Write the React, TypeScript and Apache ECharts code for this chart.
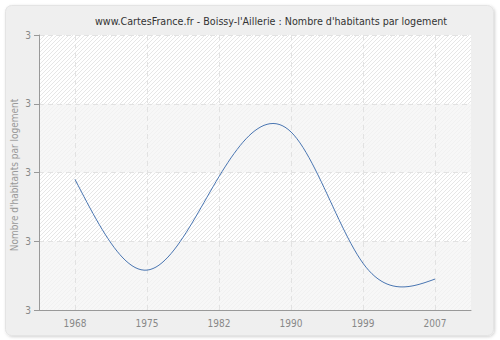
import React, { useEffect, useRef } from "react";
import * as echarts from "echarts";

const TITLE = "www.CartesFrance.fr - Boissy-l'Aillerie : Nombre d'habitants par logement";
const Y_NAME = "Nombre d'habitants par logement";
const years = ["1968", "1975", "1982", "1990", "1999", "2007"];
const values = [2.99, 2.858, 2.994, 3.059, 2.868, 2.845];
const yMin = 2.8;
const yMax = 3.2;
const yStep = 0.1;

function makeHatch() {
  const c = document.createElement("canvas");
  c.width = 4;
  c.height = 4;
  const ctx = c.getContext("2d");
  if (ctx) {
    ctx.fillStyle = "#ffffff";
    ctx.fillRect(0, 0, 4, 4);
    ctx.fillStyle = "#e6e6e6";
    for (let i = 0; i < 4; i++) ctx.fillRect(i, 3 - i, 1, 1);
  }
  return c;
}

// Natural cubic spline through pixel points
function naturalSpline(pts: number[][], steps: number): number[][] {
  const n = pts.length;
  if (n < 3) return pts;
  const xs = pts.map((p) => p[0]);
  const ys = pts.map((p) => p[1]);
  const h: number[] = [];
  for (let i = 0; i < n - 1; i++) h.push(xs[i + 1] - xs[i]);
  const a: number[] = new Array(n).fill(0);
  const b: number[] = new Array(n).fill(0);
  const c: number[] = new Array(n).fill(0);
  const d: number[] = new Array(n).fill(0);
  b[0] = 1;
  b[n - 1] = 1;
  for (let i = 1; i < n - 1; i++) {
    a[i] = h[i - 1];
    b[i] = 2 * (h[i - 1] + h[i]);
    c[i] = h[i];
    d[i] = 6 * ((ys[i + 1] - ys[i]) / h[i] - (ys[i] - ys[i - 1]) / h[i - 1]);
  }
  const cp: number[] = new Array(n).fill(0);
  const dp: number[] = new Array(n).fill(0);
  cp[0] = c[0] / b[0];
  dp[0] = d[0] / b[0];
  for (let i = 1; i < n; i++) {
    const m = b[i] - a[i] * cp[i - 1];
    cp[i] = c[i] / m;
    dp[i] = (d[i] - a[i] * dp[i - 1]) / m;
  }
  const M: number[] = new Array(n).fill(0);
  M[n - 1] = dp[n - 1];
  for (let i = n - 2; i >= 0; i--) M[i] = dp[i] - cp[i] * M[i + 1];
  const out: number[][] = [];
  for (let i = 0; i < n - 1; i++) {
    const hi = h[i];
    for (let s = 0; s < steps; s++) {
      const t = (s / steps) * hi;
      const A = (hi - t) / hi;
      const B = t / hi;
      const y =
        A * ys[i] +
        B * ys[i + 1] +
        ((A * A * A - A) * M[i] + (B * B * B - B) * M[i + 1]) * (hi * hi) / 6;
      out.push([xs[i] + t, y]);
    }
  }
  out.push([xs[n - 1], ys[n - 1]]);
  return out;
}

export default function App() {
  const ref = useRef<HTMLDivElement>(null);
  useEffect(() => {
    if (!ref.current) return;
    const chart = echarts.init(ref.current, null, { renderer: "svg" });
    const font = "DejaVu Sans Condensed";
    chart.setOption({
      animation: false,
      backgroundColor: "#ffffff",
      title: {
        text: TITLE,
        left: 90,
        top: 11,
        textStyle: { fontFamily: font, fontSize: 10.65, fontWeight: "normal", color: "#333333" },
      },
      graphic: {
        elements: [
          {
            type: "rect",
            z: -10,
            shape: { x: 5.5, y: 5.5, width: 488, height: 330, r: 6 },
            style: {
              fill: "#efefef",
              stroke: "#e4e4e4",
              lineWidth: 1,
              shadowBlur: 3,
              shadowOffsetX: 1,
              shadowOffsetY: 1,
              shadowColor: "rgba(0,0,0,0.18)",
            },
          },
          {
            type: "text",
            x: 14,
            y: 175,
            rotation: Math.PI / 2,
            style: {
              text: Y_NAME,
              fontFamily: font,
              fontSize: 10,
              fill: "#999999",
              align: "center",
              verticalAlign: "middle",
            },
          },
        ],
      },
      grid: {
        left: 39,
        right: 29,
        top: 35,
        bottom: 30,
        containLabel: false,
        outerBoundsMode: "none",
        show: true,
        borderWidth: 0,
        backgroundColor: { image: makeHatch(), repeat: "repeat" },
      },
      xAxis: {
        type: "category",
        data: years,
        boundaryGap: true,
        axisLine: { lineStyle: { color: "#999999", width: 1 } },
        axisTick: { alignWithLabel: true, length: 5, lineStyle: { color: "#999999" } },
        axisLabel: { fontFamily: font, fontSize: 10, color: "#888888", margin: 8 },
        splitLine: {
          show: true,
          alignWithLabel: true,
          lineStyle: { color: "#e2e2e2", type: [5, 4], width: 1 },
        },
      },
      yAxis: {
        type: "value",
        min: yMin,
        max: yMax,
        interval: yStep,
        axisLine: { show: true, lineStyle: { color: "#999999", width: 1 } },
        axisTick: { show: true, length: 5, lineStyle: { color: "#999999" } },
        axisLabel: {
          fontFamily: font,
          fontSize: 10,
          color: "#888888",
          margin: 8,
          formatter: (v: number) => String(Math.round(v)),
        },
        splitLine: { show: true, lineStyle: { color: "#e2e2e2", type: [5, 4], width: 1 } },
        splitArea: {
          show: true,
          areaStyle: { color: ["rgba(244,244,244,0.75)", "rgba(255,255,255,0)"] },
        },
      },
      series: [
        {
          type: "custom",
          data: values.map((v, i) => [i, v]),
          encode: { x: 0, y: 1 },
          renderItem: (params: any, api: any) => {
            if (params.dataIndex !== 0) return null;
            const pts = values.map((v, i) => api.coord([i, v]));
            const curve = naturalSpline(pts, 24);
            return {
              type: "polyline",
              shape: { points: curve },
              style: { stroke: "#4a76b2", fill: "none", lineWidth: 1 },
            };
          },
        },
      ],
    });
    return () => chart.dispose();
  }, []);
  return (
    <div
      ref={ref}
      style={{ position: "absolute", left: 0, top: 0, width: 500, height: 340 }}
    />
  );
}
